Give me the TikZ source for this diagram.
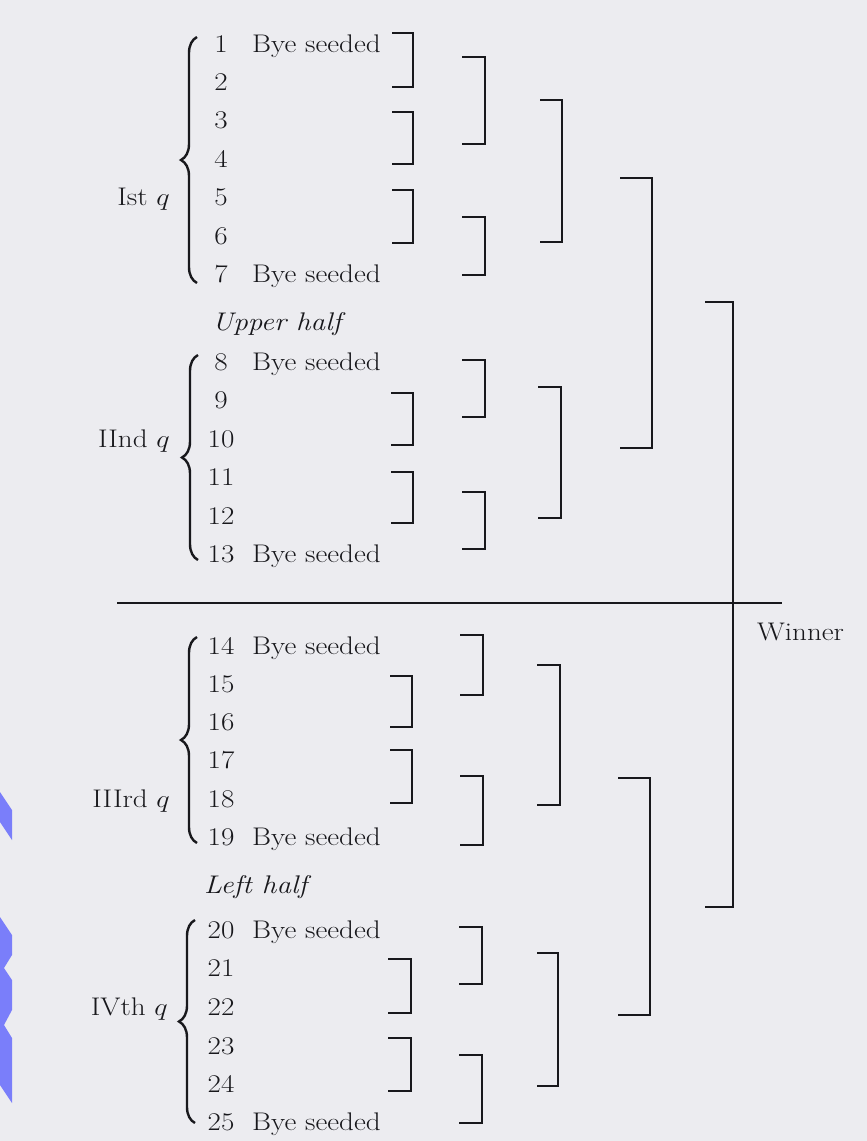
\documentclass[tikz,border=0pt]{standalone}
\usepackage{graphicx}
\usetikzlibrary{decorations.pathreplacing}

\definecolor{paper}{RGB}{236,236,240}
\definecolor{ink}{RGB}{24,24,28}
\definecolor{tabblue}{RGB}{122,126,250}

% slightly widened type, closer to a schoolbook face
\newcommand{\stx}[1]{\scalebox{1.14}[1]{#1}}

% a "]" shaped match bracket: name, left x, right x, top y, bottom y
\newcommand{\matchbox}[5]{%
  \coordinate (#1-t) at (#2,#4);
  \coordinate (#1-b) at (#2,#5);
  \draw[tie] (#1-t) -| (#3,#5) -- (#1-b);}

\begin{document}
\begin{tikzpicture}[x=1pt,y=-1pt,
  txt/.style={inner sep=0pt, text=ink, font=\fontsize{25.5}{30}\selectfont},
  num/.style={txt, anchor=base},
  bye/.style={txt, anchor=base west},
  qlab/.style={txt, anchor=base east},
  half/.style={txt, anchor=base west, font=\fontsize{25.5}{30}\selectfont\itshape},
  tie/.style={draw=ink, line width=1.9pt},
  curly/.style={draw=ink, line width=2.4pt, decorate,
                decoration={brace, amplitude=16pt, aspect=0.5}},
  rule/.style={draw=ink, line width=1.8pt}]

\useasboundingbox[fill=paper] (0,0) rectangle (867,1141);

% blue page-edge tab marks
\fill[tabblue] (0,792) -- (12,810) -- (12,840) -- (0,822) -- cycle;
\fill[tabblue] (0,917) -- (12,935) -- (12,955) -- (4,968) -- (12,980)
  -- (12,1010) -- (4,1025) -- (12,1038) -- (12,1103) -- (0,1085) -- cycle;

% quarter braces
\draw[curly] (197,283) -- (197,37);
\draw[curly] (198,560) -- (198,355);
\draw[curly] (197,843) -- (197,637);
\draw[curly] (195,1123) -- (195,920);

% rule between the halves
\coordinate (hl) at (117,603);
\coordinate (hr) at (782,603);
\draw[rule] (hl) -- (hr);

% first round
\matchbox{a1}{392}{413}{33}{87}
\matchbox{a2}{392}{413}{112}{164}
\matchbox{a3}{392}{413}{190}{243}
\matchbox{a4}{391}{413}{393}{445}
\matchbox{a5}{391}{413}{472}{523}
\matchbox{a6}{390}{412}{676}{727}
\matchbox{a7}{390}{412}{750}{803}
\matchbox{a8}{388}{411}{959}{1013}
\matchbox{a9}{388}{411}{1038}{1091}

% second round
\matchbox{b1}{462}{485}{57}{144}
\matchbox{b2}{462}{485}{217}{275}
\matchbox{b3}{462}{485}{360}{417}
\matchbox{b4}{462}{485}{492}{549}
\matchbox{b5}{460}{483}{635}{695}
\matchbox{b6}{460}{483}{776}{845}
\matchbox{b7}{459}{482}{927}{984}
\matchbox{b8}{459}{482}{1055}{1123}

% quarter finals
\matchbox{c1}{540}{562}{100}{242}
\matchbox{c2}{538}{561}{387}{518}
\matchbox{c3}{537}{560}{665}{805}
\matchbox{c4}{537}{558}{953}{1086}

% semi finals
\matchbox{d1}{620}{652}{178}{448}
\matchbox{d2}{618}{650}{778}{1015}

% final
\matchbox{e1}{705}{733}{302}{907}

% team numbers
\foreach \n/\y in {1/44,2/82,3/120,4/159,5/197,6/236,7/274,
                   8/362,9/400,10/439,11/477,12/516,13/554,
                   14/646,15/684,16/722,17/760,18/799,19/837,
                   20/930,21/968,22/1007,23/1046,24/1084,25/1122}
  \node[num] (t\n) at (221,\y+8) {\stx{\n}};

% seeded byes
\foreach \n/\y in {1/44,7/274,8/362,13/554,14/646,19/837,20/930,25/1122}
  \node[bye] (bye\n) at (252,\y+8) {\stx{Bye seeded}};

% quarter labels
\node[qlab] (q1) at (170,205)  {\stx{Ist $q$}};
\node[qlab] (q2) at (170,447)  {\stx{IInd $q$}};
\node[qlab] (q3) at (170,807)  {\stx{IIIrd $q$}};
\node[qlab] (q4) at (168,1015) {\stx{IVth $q$}};

% halves
\node[half] (upper) at (212,330) {\stx{Upper half}};
\node[half] (left)  at (204,893) {\stx{Left half}};

\node[bye] (win) at (757,640) {\stx{Winner}};
\end{tikzpicture}
\end{document}
